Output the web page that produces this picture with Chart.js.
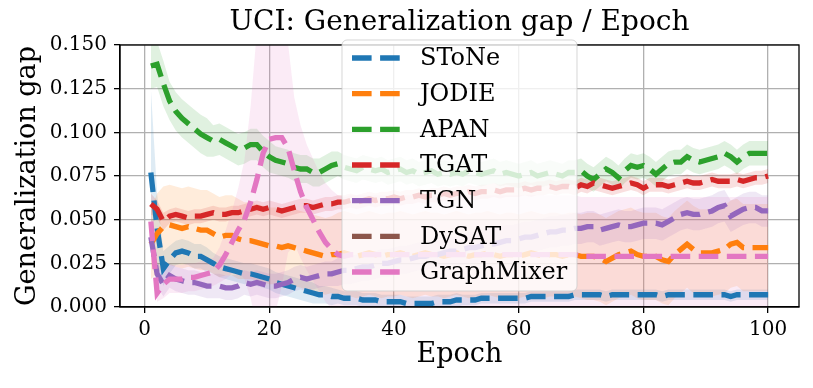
<!DOCTYPE html>
<html><head><meta charset="utf-8">
<script src="https://cdn.jsdelivr.net/npm/chart.js@4/dist/chart.umd.min.js"></script>
<style>html,body{margin:0;padding:0;background:#fff}</style>
</head><body>
<canvas id="c" width="813" height="388"></canvas>
<script>
const titleText = 'UCI: Generalization gap / Epoch';
const xTitle = 'Epoch';
const yTitle = 'Generalization gap';
const xTicks = [0, 20, 40, 60, 80, 100];
const yTicks = [0, 0.025, 0.05, 0.075, 0.1, 0.125, 0.15];
const epochs = Array.from({length: 100}, (_, i) => i + 1);
const seriesNames = ['SToNe', 'JODIE', 'APAN', 'TGAT', 'TGN', 'DySAT', 'GraphMixer'];
const seriesColors = ['#1f77b4', '#ff7f0e', '#2ca02c', '#d62728', '#9467bd', '#8c564b', '#e377c2'];

const stone = [0.077,0.045,0.022,0.027,0.031,0.032,0.031,0.029,0.029,0.027,
0.025,0.023,0.022,0.021,0.020,0.019,0.019,0.018,0.017,0.016,
0.014,0.013,0.012,0.011,0.010,0.009,0.008,0.007,0.007,0.006,
0.006,0.005,0.005,0.005,0.004,0.004,0.004,0.003,0.003,0.003,
0.003,0.002,0.002,0.002,0.002,0.002,0.003,0.003,0.003,0.004,
0.004,0.004,0.004,0.005,0.005,0.005,0.005,0.005,0.005,0.005,
0.005,0.006,0.006,0.006,0.006,0.006,0.006,0.006,0.007,0.007,
0.007,0.007,0.007,0.006,0.007,0.007,0.007,0.007,0.007,0.007,
0.007,0.007,0.006,0.007,0.007,0.007,0.007,0.007,0.007,0.007,
0.007,0.007,0.007,0.006,0.007,0.007,0.007,0.007,0.007,0.007];
const stoneStd = [0.048,0.020,0.010,0.008,0.007,0.007,0.007,0.007,0.007,0.007,
0.006,0.006,0.006,0.006,0.006,0.006,0.006,0.006,0.006,0.006,
0.006,0.006,0.006,0.006,0.006,0.006,0.006,0.005,0.005,0.005,
0.004,0.004,0.004,0.004,0.004,0.004,0.004,0.004,0.004,0.004,
0.004,0.004,0.004,0.004,0.004,0.004,0.004,0.004,0.004,0.004,
0.003,0.003,0.003,0.003,0.003,0.003,0.003,0.003,0.003,0.003,
0.003,0.003,0.003,0.003,0.003,0.003,0.003,0.003,0.003,0.003,
0.003,0.003,0.003,0.003,0.003,0.003,0.003,0.003,0.003,0.003,
0.003,0.003,0.003,0.003,0.003,0.003,0.003,0.003,0.003,0.003,
0.003,0.003,0.003,0.003,0.003,0.003,0.003,0.003,0.003,0.003];

const jodie = [0.036,0.042,0.046,0.047,0.046,0.045,0.046,0.045,0.044,0.044,
0.042,0.040,0.041,0.041,0.039,0.038,0.038,0.037,0.036,0.035,
0.035,0.034,0.035,0.034,0.033,0.032,0.031,0.030,0.029,0.030,
0.030,0.031,0.030,0.029,0.030,0.031,0.030,0.029,0.030,0.030,
0.031,0.030,0.029,0.030,0.031,0.030,0.030,0.029,0.030,0.031,
0.030,0.029,0.030,0.030,0.031,0.030,0.029,0.030,0.030,0.029,
0.030,0.031,0.030,0.029,0.030,0.030,0.029,0.030,0.030,0.029,
0.029,0.029,0.028,0.026,0.028,0.030,0.031,0.032,0.030,0.029,
0.029,0.029,0.027,0.026,0.030,0.033,0.036,0.033,0.031,0.031,
0.031,0.032,0.033,0.036,0.037,0.034,0.034,0.034,0.034,0.034];
const jodieStd = [0.020,0.023,0.023,0.023,0.023,0.023,0.023,0.023,0.023,0.023,
0.023,0.023,0.023,0.023,0.023,0.022,0.022,0.022,0.022,0.022,
0.022,0.022,0.022,0.022,0.022,0.022,0.022,0.022,0.022,0.022,
0.024,0.024,0.024,0.024,0.024,0.024,0.024,0.024,0.024,0.024,
0.024,0.024,0.024,0.024,0.024,0.024,0.024,0.024,0.024,0.024,
0.024,0.024,0.024,0.024,0.024,0.024,0.024,0.024,0.024,0.024,
0.024,0.024,0.024,0.024,0.024,0.024,0.024,0.024,0.024,0.024,
0.025,0.025,0.025,0.025,0.025,0.025,0.025,0.025,0.025,0.025,
0.025,0.025,0.025,0.025,0.025,0.025,0.025,0.025,0.025,0.025,
0.025,0.025,0.025,0.025,0.025,0.025,0.025,0.025,0.025,0.025];

const apan = [0.138,0.139,0.128,0.118,0.112,0.108,0.105,0.102,0.099,0.097,
0.095,0.096,0.094,0.092,0.090,0.091,0.093,0.093,0.089,0.086,
0.084,0.083,0.082,0.080,0.079,0.079,0.077,0.077,0.079,0.081,
0.082,0.080,0.079,0.078,0.080,0.079,0.078,0.079,0.077,0.078,
0.079,0.077,0.078,0.076,0.077,0.078,0.076,0.077,0.076,0.077,
0.076,0.078,0.077,0.076,0.077,0.078,0.076,0.077,0.076,0.075,
0.076,0.077,0.075,0.076,0.077,0.076,0.075,0.077,0.077,0.078,
0.075,0.073,0.076,0.079,0.077,0.074,0.078,0.081,0.080,0.081,
0.079,0.076,0.079,0.082,0.083,0.083,0.086,0.084,0.083,0.084,
0.085,0.086,0.088,0.086,0.083,0.086,0.088,0.088,0.088,0.088];
const apanStd = [0.013,0.013,0.013,0.011,0.011,0.011,0.011,0.011,0.011,0.011,
0.009,0.009,0.009,0.009,0.009,0.009,0.009,0.009,0.009,0.009,
0.008,0.008,0.008,0.008,0.008,0.008,0.008,0.008,0.008,0.008,
0.007,0.007,0.007,0.007,0.007,0.007,0.007,0.007,0.007,0.007,
0.007,0.007,0.007,0.007,0.007,0.007,0.007,0.007,0.007,0.007,
0.007,0.007,0.007,0.007,0.007,0.007,0.007,0.007,0.007,0.007,
0.007,0.007,0.007,0.007,0.007,0.007,0.007,0.007,0.007,0.007,
0.007,0.007,0.007,0.007,0.007,0.007,0.007,0.007,0.007,0.007,
0.007,0.007,0.007,0.007,0.007,0.007,0.007,0.007,0.007,0.007,
0.007,0.007,0.007,0.007,0.007,0.007,0.007,0.007,0.007,0.007];

const tgat = [0.059,0.056,0.049,0.052,0.053,0.052,0.051,0.052,0.052,0.053,
0.054,0.053,0.053,0.054,0.054,0.055,0.056,0.057,0.056,0.057,
0.056,0.055,0.056,0.057,0.058,0.058,0.057,0.058,0.059,0.059,
0.060,0.060,0.061,0.060,0.061,0.062,0.061,0.062,0.062,0.063,
0.062,0.063,0.063,0.064,0.063,0.064,0.064,0.065,0.064,0.065,
0.065,0.066,0.065,0.066,0.066,0.067,0.066,0.067,0.067,0.067,
0.068,0.067,0.068,0.068,0.069,0.068,0.069,0.069,0.068,0.070,
0.069,0.071,0.070,0.069,0.068,0.069,0.070,0.071,0.070,0.068,
0.070,0.070,0.070,0.069,0.070,0.071,0.072,0.071,0.071,0.072,
0.073,0.072,0.072,0.072,0.073,0.072,0.073,0.074,0.074,0.075];
const tgatStd = [0.006,0.005,0.005,0.004,0.004,0.004,0.004,0.004,0.004,0.004,
0.004,0.004,0.004,0.004,0.004,0.004,0.004,0.004,0.004,0.004,
0.004,0.004,0.004,0.004,0.004,0.004,0.004,0.004,0.004,0.004,
0.004,0.004,0.004,0.004,0.004,0.004,0.004,0.004,0.004,0.004,
0.004,0.004,0.004,0.004,0.004,0.004,0.004,0.004,0.004,0.004,
0.004,0.004,0.004,0.004,0.004,0.004,0.004,0.004,0.004,0.004,
0.004,0.004,0.004,0.004,0.004,0.004,0.004,0.004,0.004,0.004,
0.004,0.004,0.004,0.004,0.004,0.004,0.004,0.004,0.004,0.004,
0.004,0.004,0.004,0.004,0.004,0.004,0.004,0.004,0.004,0.004,
0.004,0.004,0.004,0.004,0.004,0.004,0.004,0.004,0.004,0.004];

const tgn = [0.040,0.019,0.013,0.018,0.016,0.015,0.014,0.014,0.013,0.012,
0.012,0.012,0.011,0.011,0.012,0.014,0.013,0.014,0.013,0.012,
0.012,0.013,0.014,0.016,0.017,0.016,0.017,0.018,0.019,0.019,
0.020,0.021,0.021,0.022,0.023,0.023,0.024,0.025,0.025,0.026,
0.027,0.027,0.028,0.029,0.029,0.030,0.030,0.031,0.032,0.032,
0.033,0.034,0.034,0.035,0.036,0.036,0.037,0.038,0.038,0.039,
0.040,0.040,0.041,0.042,0.043,0.043,0.044,0.044,0.045,0.045,
0.046,0.046,0.044,0.045,0.046,0.047,0.046,0.046,0.047,0.048,
0.048,0.048,0.047,0.049,0.051,0.053,0.054,0.053,0.053,0.054,
0.055,0.057,0.058,0.052,0.054,0.056,0.057,0.057,0.055,0.055];
const tgnStd = [0.008,0.007,0.007,0.007,0.007,0.007,0.007,0.007,0.007,0.007,
0.007,0.007,0.007,0.007,0.007,0.007,0.007,0.007,0.007,0.007,
0.007,0.007,0.007,0.007,0.007,0.007,0.007,0.007,0.007,0.007,
0.008,0.008,0.008,0.008,0.008,0.008,0.008,0.008,0.008,0.008,
0.008,0.008,0.008,0.008,0.008,0.008,0.008,0.008,0.008,0.008,
0.009,0.009,0.009,0.009,0.009,0.009,0.009,0.009,0.009,0.009,
0.009,0.009,0.009,0.009,0.009,0.009,0.009,0.009,0.009,0.009,
0.009,0.009,0.009,0.009,0.009,0.009,0.009,0.009,0.009,0.009,
0.009,0.009,0.009,0.009,0.009,0.009,0.009,0.009,0.009,0.009,
0.009,0.009,0.009,0.009,0.009,0.009,0.009,0.009,0.009,0.009];

const dysat = [];
const dysatStd = [];

const graphmixer = [0.049,0.008,0.013,0.016,0.016,0.016,0.017,0.017,0.018,0.019,
0.020,0.024,0.030,0.037,0.044,0.050,0.060,0.073,0.088,0.096,
0.097,0.097,0.091,0.078,0.066,0.057,0.050,0.043,0.037,0.033,
0.030,0.029,0.030,0.030,0.030,0.030,0.030,0.030,0.030,0.030,
0.030,0.030,0.030,0.030,0.030,0.030,0.030,0.030,0.030,0.030,
0.030,0.030,0.030,0.030,0.030,0.030,0.030,0.030,0.030,0.030,
0.030,0.030,0.030,0.030,0.030,0.030,0.030,0.030,0.030,0.029,
0.029,0.029,0.029,0.029,0.029,0.029,0.029,0.029,0.029,0.029,
0.029,0.029,0.029,0.029,0.029,0.029,0.029,0.029,0.029,0.029,
0.029,0.029,0.029,0.029,0.029,0.029,0.029,0.029,0.029,0.029];
const graphmixerStd = [0.010,0.005,0.008,0.008,0.008,0.008,0.008,0.008,0.008,0.008,
0.008,0.010,0.014,0.018,0.024,0.034,0.055,0.085,0.100,0.100,
0.100,0.085,0.060,0.042,0.038,0.036,0.035,0.034,0.034,0.034,
0.034,0.034,0.034,0.034,0.034,0.034,0.034,0.034,0.034,0.034,
0.034,0.034,0.034,0.034,0.034,0.034,0.034,0.034,0.034,0.034,
0.034,0.034,0.034,0.034,0.034,0.034,0.034,0.034,0.034,0.034,
0.034,0.034,0.034,0.034,0.034,0.034,0.034,0.034,0.034,0.034,
0.034,0.034,0.034,0.034,0.034,0.034,0.034,0.034,0.034,0.034,
0.034,0.034,0.034,0.034,0.034,0.034,0.034,0.034,0.034,0.034,
0.034,0.034,0.034,0.034,0.034,0.034,0.034,0.034,0.034,0.034];

const seriesMeans = [stone, jodie, apan, tgat, tgn, dysat, graphmixer];
const seriesStds = [stoneStd, jodieStd, apanStd, tgatStd, tgnStd, dysatStd, graphmixerStd];

const FONT = "'DejaVu Serif', 'Liberation Serif', serif";
const LW = 5.3;
const DASH = [19.6, 8.5];

function rgba(hex, a) {
  const n = parseInt(hex.slice(1), 16);
  return `rgba(${(n >> 16) & 255},${(n >> 8) & 255},${n & 255},${a})`;
}

const datasets = [];
seriesNames.forEach((name, i) => {
  const m = seriesMeans[i], s = seriesStds[i];
  const upIdx = datasets.length;
  datasets.push({
    label: name + ' upper', data: m.map((v, k) => ({x: epochs[k], y: v + s[k]})),
    borderWidth: 0, pointRadius: 0, fill: false, order: 100 + (6 - i) * 2
  });
  datasets.push({
    label: name + ' lower', data: m.map((v, k) => ({x: epochs[k], y: v - s[k]})),
    borderWidth: 0, pointRadius: 0, fill: {target: upIdx}, backgroundColor: rgba(seriesColors[i], 0.15),
    order: 100 + (6 - i) * 2 + 1
  });
});
seriesNames.forEach((name, i) => {
  datasets.push({
    label: name, data: seriesMeans[i].map((v, k) => ({x: epochs[k], y: v})),
    borderColor: seriesColors[i], borderWidth: LW, borderDash: DASH, borderCapStyle: 'butt',
    pointRadius: 0, fill: false, tension: 0, order: 6 - i
  });
});

const framePlugin = {
  id: 'frameAndLegend',
  afterDatasetsDraw(chart) {
    const {ctx, chartArea: a} = chart;
    ctx.save();
    ctx.strokeStyle = '#000';
    ctx.lineWidth = 1.3;
    ctx.strokeRect(a.left, a.top, a.right - a.left, a.bottom - a.top);
    ctx.restore();
  },
  afterDraw(chart) {
    const ctx = chart.ctx;
    const bx = 342, by = 40, bw = 235, bh = 251, r = 5;
    ctx.save();
    ctx.beginPath();
    ctx.moveTo(bx + r, by);
    ctx.arcTo(bx + bw, by, bx + bw, by + bh, r);
    ctx.arcTo(bx + bw, by + bh, bx, by + bh, r);
    ctx.arcTo(bx, by + bh, bx, by, r);
    ctx.arcTo(bx, by, bx + bw, by, r);
    ctx.closePath();
    ctx.fillStyle = 'rgba(255,255,255,0.8)';
    ctx.fill();
    ctx.strokeStyle = 'rgba(204,204,204,0.8)';
    ctx.lineWidth = 1;
    ctx.stroke();
    ctx.font = '24px ' + FONT;
    ctx.textBaseline = 'middle';
    ctx.textAlign = 'left';
    seriesNames.forEach((name, i) => {
      const y = 58 + i * 35.67;
      ctx.beginPath();
      ctx.setLineDash(DASH);
      ctx.lineCap = 'butt';
      ctx.strokeStyle = seriesColors[i];
      ctx.lineWidth = LW;
      ctx.moveTo(352, y);
      ctx.lineTo(400, y);
      ctx.stroke();
      ctx.setLineDash([]);
      ctx.fillStyle = '#000';
      ctx.fillText(name, 420, y + 1);
    });
    ctx.restore();
  }
};

new Chart(document.getElementById('c'), {
  type: 'line',
  data: {datasets},
  options: {
    responsive: false,
    animation: false,
    devicePixelRatio: 1,
    layout: {padding: {left: 0, right: 14, top: 0, bottom: 0}},
    plugins: {
      legend: {display: false},
      tooltip: {enabled: false},
      title: {
        display: true, text: titleText, fullSize: false, color: '#000',
        font: {family: FONT, size: 28, weight: 'normal'},
        padding: {top: 6, bottom: 5.4}
      }
    },
    scales: {
      x: {
        type: 'linear', min: -3.95, max: 104.95,
        afterBuildTicks: s => { s.ticks = xTicks.map(v => ({value: v})); },
        afterFit: s => { s.height = 81; },
        ticks: {color: '#000', font: {family: FONT, size: 20}, padding: 5, maxRotation: 0, autoSkip: false,
                callback: v => String(v)},
        grid: {color: '#b0b0b0', lineWidth: 1.3, tickColor: '#000', tickLength: 6, tickWidth: 1.3},
        border: {display: true, color: '#000', width: 1.3},
        title: {display: true, text: xTitle, color: '#000', font: {family: FONT, size: 27},
                padding: {top: 0, bottom: 17}}
      },
      y: {
        min: 0, max: 0.15,
        afterBuildTicks: s => { s.ticks = yTicks.map(v => ({value: v})); },
        afterFit: s => { s.width = 120; },
        ticks: {color: '#000', font: {family: FONT, size: 20}, padding: 7, autoSkip: false,
                callback: v => Number(v).toFixed(3)},
        grid: {color: '#b0b0b0', lineWidth: 1.3, tickColor: '#000', tickLength: 6, tickWidth: 1.3},
        border: {display: true, color: '#000', width: 1.3},
        title: {display: true, text: yTitle, color: '#000', font: {family: FONT, size: 27},
                padding: {top: 12, bottom: 0}}
      }
    }
  },
  plugins: [framePlugin]
});
</script>
</body></html>
